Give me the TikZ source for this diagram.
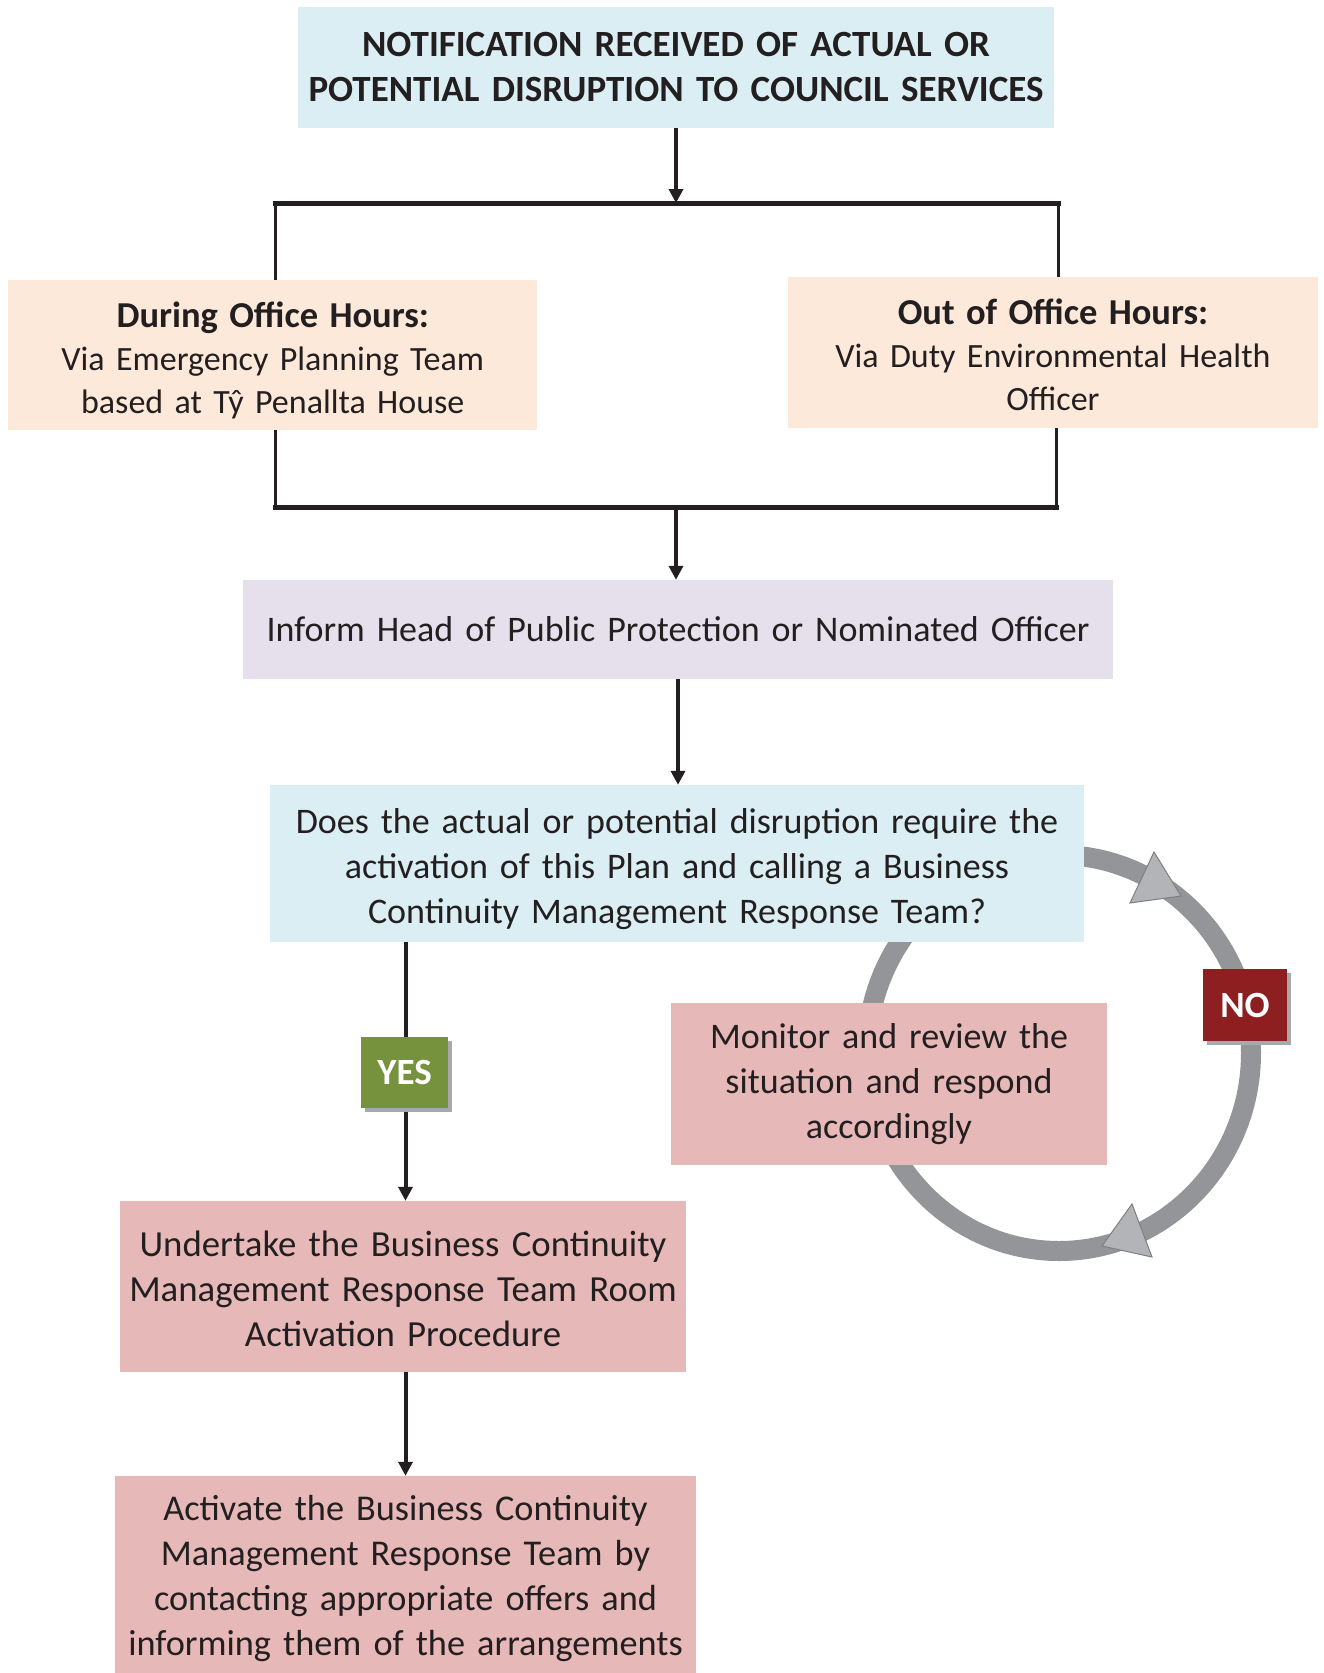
\documentclass[tikz,border=0pt]{standalone}
\usepackage{fontspec}
\setmainfont{Carlito}
\usetikzlibrary{arrows.meta,shadows}
\definecolor{ink}{HTML}{231F20}
\definecolor{topblue}{HTML}{DAEEF3}
\definecolor{peach}{HTML}{FDE9D9}
\definecolor{lav}{HTML}{E5E0EC}
\definecolor{rose}{HTML}{E6B9B8}
\definecolor{yesgreen}{HTML}{76923C}
\definecolor{nored}{HTML}{8E1F20}
\definecolor{ring}{HTML}{939598}
\definecolor{ringtip}{HTML}{B2B4B7}
\definecolor{shade}{HTML}{A7A9AC}
\newcommand\topgap[1]{\rule{0pt}{#1pt}}
\begin{document}
\begin{tikzpicture}[x=1pt,y=-1pt,
  box/.style={inner sep=0pt, align=center, text=ink, font=\fontsize{36}{45}\selectfont},
  tag/.style={inner sep=0pt, align=center, text=white, font=\fontsize{37}{40}\selectfont\bfseries,
    drop shadow={fill=shade, opacity=1, shadow xshift=4pt, shadow yshift=-4pt}},
  flow/.style={draw=ink, line width=4pt, -{Triangle[length=14pt,width=14pt]}},
  bar/.style={draw=ink, line width=5pt, line cap=rect},
  post/.style={draw=ink, line width=3pt},
  tiphead/.style={fill=ringtip, draw=ring!85!black, line width=1pt, line join=miter}]
\useasboundingbox (0,0) rectangle (1324,1673);
\fill[white] (0,0) rectangle (1324,1673);

% ring
\draw[ring, line width=20pt] (1059,1053) ellipse[x radius=192pt, y radius=198pt];
\filldraw[tiphead] (1181,896) -- (1154,852) -- (1130,903) -- cycle;
\filldraw[tiphead] (1102,1246) -- (1132,1204) -- (1152,1257) -- cycle;

% boxes
\node[box, fill=topblue, minimum width=756pt, minimum height=121pt, text width=745pt,
  font=\fontsize{37}{45}\selectfont\bfseries] (top) at (676,67.5)
  {NOTIFICATION RECEIVED OF ACTUAL OR\\POTENTIAL DISRUPTION TO COUNCIL SERVICES};
\node[box, fill=peach, minimum width=529pt, minimum height=150pt, text width=510pt,
  font=\fontsize{34}{43}\selectfont] (left) at (272.75,355)
  {\topgap{37}{\fontsize{36.5}{43}\selectfont\bfseries During Office Hours:}\\Via Emergency Planning Team\\based at Tŷ Penallta House};
\node[box, fill=peach, minimum width=530pt, minimum height=151pt, text width=510pt,
  font=\fontsize{34}{43}\selectfont] (right) at (1053,352.5)
  {\topgap{30}{\fontsize{36.5}{43}\selectfont\bfseries Out of Office Hours:}\\Via Duty Environmental Health\\Officer};
\node[box, fill=lav, minimum width=870pt, minimum height=99pt, text width=850pt] (inform) at (678,629.5)
  {Inform Head of Public Protection or Nominated Officer};
\node[box, fill=topblue, minimum width=814pt, minimum height=157pt, text width=800pt] (question) at (677,863.5)
  {\topgap{36}Does the actual or potential disruption require the\\activation of this Plan and calling a Business\\Continuity Management Response Team?};
\node[box, fill=rose, minimum width=436pt, minimum height=162pt, text width=420pt] (monitor) at (889,1084)
  {Monitor and review the\\situation and respond\\accordingly};
\node[box, fill=rose, minimum width=566pt, minimum height=171pt, text width=555pt,
  font=\fontsize{36.8}{45}\selectfont] (undertake) at (403,1286.5)
  {\topgap{30}Undertake the Business Continuity\\Management Response Team Room\\Activation Procedure};
\node[box, fill=rose, minimum width=581pt, minimum height=197pt, text width=570pt,
  font=\fontsize{36.3}{45}\selectfont] (activate) at (405.5,1574.5)
  {\topgap{34}Activate the Business Continuity\\Management Response Team by\\contacting appropriate offers and\\informing them of the arrangements};

% bracket
\coordinate (bt) at (676,203);
\coordinate (btl) at (275,203);
\coordinate (btr) at (1058,203);
\coordinate (bb) at (676,507);
\coordinate (bbl) at (275,507);
\coordinate (bbr) at (1056,507);
\draw[flow] (top.south) -- (bt);
\draw[post] (btl) -- (btl |- left.north);
\draw[post] (btr) -- (btr |- right.north);
\draw[post] (bbl |- left.south) -- (bbl);
\draw[post] (bbr |- right.south) -- (bbr);
\draw[bar] (btl) -- (btr);
\draw[bar] (bbl) -- (bbr);
\draw[flow] (bb) -- (bb |- inform.north);

% main flow
\draw[flow] (inform.south) -- (inform.south |- question.north);
\draw[flow] (question.south -| activate.north) -- (undertake.north -| activate.north);
\draw[flow] (undertake.south -| activate.north) -- (activate.north);

% tags
\node[tag, fill=yesgreen, minimum width=87pt, minimum height=71pt] (yes) at (404.5,1072.5) {YES};
\node[tag, fill=nored, minimum width=84pt, minimum height=72pt] (no) at (1245,1005) {NO};
\end{tikzpicture}
\end{document}
